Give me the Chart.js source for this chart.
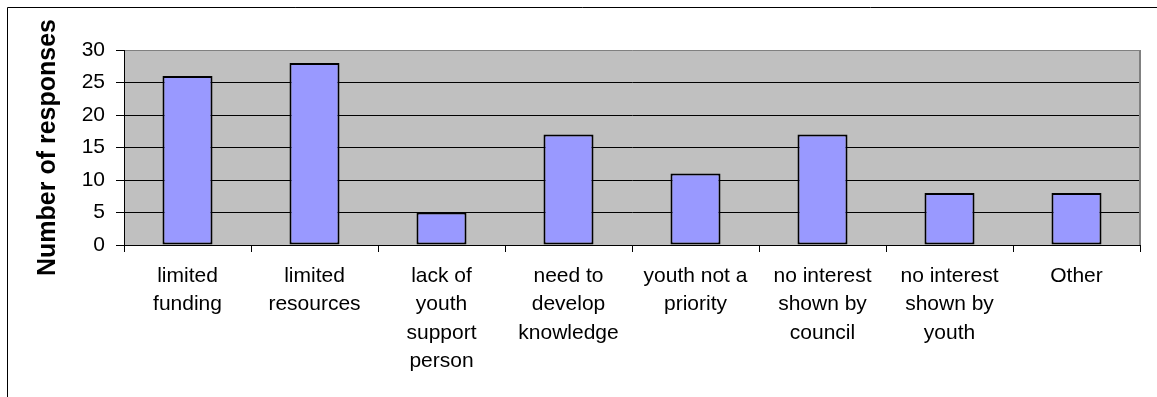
<!DOCTYPE html>
<html>
<head>
<meta charset="utf-8">
<script src="https://cdn.jsdelivr.net/npm/chart.js@4/dist/chart.umd.min.js"></script>
<style>
  html, body { margin: 0; padding: 0; background: #fff; overflow: hidden; }
  #wrap { width: 1157px; height: 397px; position: relative; }
</style>
</head>
<body>
<div id="wrap"><canvas id="c" width="1157" height="397"></canvas></div>
<script>
// Barriers reported, one bar per category
const categories = [
  ["limited", "funding"],
  ["limited", "resources"],
  ["lack of", "youth", "support", "person"],
  ["need to", "develop", "knowledge"],
  ["youth not a", "priority"],
  ["no interest", "shown by", "council"],
  ["no interest", "shown by", "youth"],
  ["Other"]
];
const responses = [26, 28, 5, 17, 11, 17, 8, 8];
const yTicks = [0, 5, 10, 15, 20, 25, 30];
const yTitle = "Number of responses";

const FONT = "'Liberation Sans', Arial, Helvetica, sans-serif";

// Gray plot area, its gray top/right frame and the outer chart frame
const framePlugin = {
  id: 'frame',
  beforeDraw(chart) {
    const { ctx, chartArea: a } = chart;
    ctx.save();
    ctx.fillStyle = '#C0C0C0';
    ctx.fillRect(a.left, a.top, a.right - a.left, a.bottom - a.top);
    ctx.strokeStyle = '#000';
    ctx.lineWidth = 1;
    ctx.beginPath();
    ctx.moveTo(7.5, chart.height + 2);
    ctx.lineTo(7.5, 7.5);
    ctx.lineTo(chart.width + 2, 7.5);
    ctx.stroke();
    ctx.restore();
  },
  afterDraw(chart) {
    const { ctx, chartArea: a } = chart;
    ctx.save();
    ctx.strokeStyle = '#808080';
    ctx.lineWidth = 2;
    ctx.beginPath();
    ctx.moveTo(a.right, a.top);
    ctx.lineTo(a.right, a.bottom);
    ctx.stroke();
    ctx.restore();
  }
};

new Chart(document.getElementById('c'), {
  type: 'bar',
  data: {
    labels: categories,
    datasets: [{
      data: responses,
      backgroundColor: '#9999FF',
      borderColor: '#000000',
      borderWidth: 2,
      borderSkipped: false,
      barPercentage: 0.394,
      categoryPercentage: 1.0
    }]
  },
  options: {
    responsive: false,
    animation: false,
    devicePixelRatio: 1,
    layout: { padding: { left: 20, top: 50, right: 17, bottom: 0 } },
    plugins: {
      legend: { display: false },
      tooltip: { enabled: false }
    },
    scales: {
      x: {
        grid: {
          offset: true,
          drawOnChartArea: false,
          drawTicks: true,
          tickLength: 7,
          color: '#000'
        },
        border: { display: true, color: '#000', width: 1 },
        ticks: {
          color: '#000',
          padding: 10,
          maxRotation: 0,
          autoSkip: false,
          font: { family: FONT, size: 21, lineHeight: 1.35 }
        },
        afterFit(scale) { scale.height = 152; }
      },
      y: {
        min: 0,
        max: 30,
        afterBuildTicks(scale) { scale.ticks = yTicks.map(v => ({ value: v })); },
        grid: {
          color: (c) => (c.tick && c.tick.value === 30 ? '#808080' : '#000'),
          tickColor: '#000',
          tickLength: 8,
          lineWidth: 1
        },
        border: { display: true, color: '#000', width: 1 },
        ticks: {
          color: '#000',
          padding: 11,
          font: { family: FONT, size: 21 }
        },
        title: {
          display: true,
          text: yTitle,
          color: '#000',
          padding: { top: 13, bottom: 0 },
          font: { family: FONT, size: 25, weight: 'bold', lineHeight: 1.2 }
        },
        afterFit(scale) { scale.width = 104; }
      }
    }
  },
  plugins: [framePlugin]
});
</script>
</body>
</html>
